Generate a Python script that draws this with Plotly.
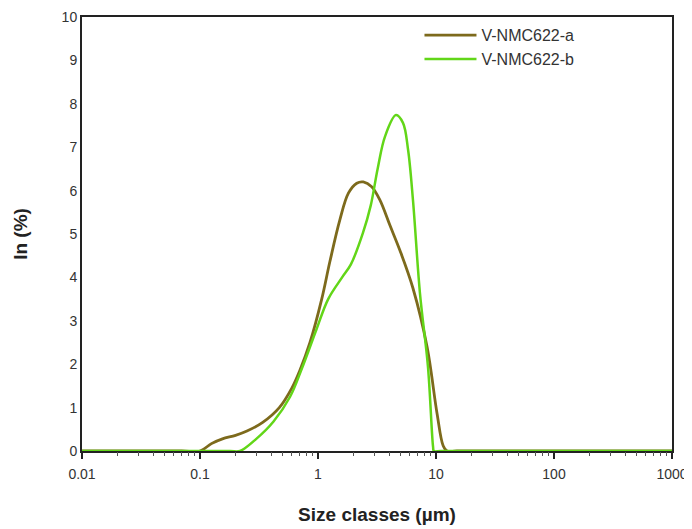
import plotly.graph_objects as go

# Size classes (µm) and volume density In (%)
size_a = [0.01, 0.03, 0.07, 0.1, 0.125, 0.155, 0.2, 0.25, 0.34, 0.47, 0.6, 0.7, 0.855, 1.075, 1.26, 1.53,
          1.81, 2.13, 2.42, 2.85, 3.35, 4.07, 4.95, 6.38, 8.4, 10.2, 11.5, 12.4, 15, 40, 200, 1000]
in_a = [0, 0, 0, 0, 0.17, 0.28, 0.36, 0.46, 0.66, 1.0, 1.45, 1.85, 2.5, 3.5, 4.36, 5.32,
        5.94, 6.17, 6.2, 6.09, 5.78, 5.2, 4.62, 3.75, 2.4, 0.87, 0.12, 0, 0, 0, 0, 0]

size_b = [0.01, 0.03, 0.1, 0.18, 0.218, 0.3, 0.42, 0.58, 0.73, 0.97, 1.22, 1.6, 1.9, 2.4, 2.8, 3.2, 3.7,
          4.58, 5.25, 5.8, 6.38, 7.31, 8.55, 9.44, 9.6, 11, 30, 200, 1000]
in_b = [0, 0, 0, 0, 0, 0.28, 0.68, 1.25, 1.9, 2.8, 3.5, 4.0, 4.3, 5.02, 5.66, 6.5, 7.25,
        7.74, 7.56, 6.94, 5.78, 3.64, 1.94, 0.1, 0, 0, 0, 0, 0]

x_tickvals = [0.01, 0.1, 1, 10, 100, 1000]
x_ticktext = ["0.01", "0.1", "1", "10", "100", "1000"]
x_minor = [m * 10.0 ** d for d in range(-2, 3) for m in range(2, 10)]
y_tickvals = list(range(0, 11))

fig = go.Figure()
fig.add_trace(go.Scatter(x=size_a, y=in_a, mode="lines", name="V-NMC622-a",
                         line=dict(color="#7d6a1c", width=2.8, shape="spline", smoothing=1.0)))
fig.add_trace(go.Scatter(x=size_b, y=in_b, mode="lines", name="V-NMC622-b",
                         line=dict(color="#62d618", width=2.5, shape="spline", smoothing=1.0)))
# carrier trace for the minor-tick axis
fig.add_trace(go.Scatter(x=[x_tickvals[0], x_tickvals[-1]], y=[0, 0], xaxis="x2", mode="lines",
                         line=dict(width=0), opacity=0, showlegend=False, hoverinfo="skip"))

# the page body adds an 8 px offset, so the figure is sized to the remaining viewport
fig.update_layout(
    width=684, height=521,
    margin=dict(l=74, r=20, t=9, b=78),
    paper_bgcolor="white", plot_bgcolor="white",
    font=dict(family="Liberation Sans, Arial, sans-serif", color="#333333", size=14),
    showlegend=True,
    legend=dict(x=0.572, y=0.997, xanchor="left", yanchor="top",
                bgcolor="rgba(0,0,0,0)", font=dict(size=16, color="#333333"),
                itemwidth=52, tracegroupgap=0),
    xaxis2=dict(type="log", range=[-2, 3], overlaying="x", anchor="y", side="bottom",
                tickvals=x_minor, ticktext=[""] * len(x_minor), showticklabels=False,
                ticks="outside", ticklen=4, tickwidth=1, tickcolor="#555555",
                showline=False, showgrid=False, zeroline=False, automargin=False),
    xaxis=dict(
        type="log", range=[-2, 3],
        tickvals=x_tickvals, ticktext=x_ticktext,
        showline=True, linecolor="#222222", linewidth=2, mirror=True,
        ticks="outside", ticklen=6, tickwidth=1.5, tickcolor="#222222",
        ticklabelstandoff=3,
        showgrid=False, zeroline=False, automargin=False,
        tickfont=dict(size=14, color="#333333"),
        title=dict(text="<b>Size classes (µm)</b>", font=dict(size=19, color="#222222"), standoff=27),
    ),
    yaxis=dict(
        range=[0, 10], tickvals=y_tickvals,
        showline=True, linecolor="#222222", linewidth=2, mirror=True,
        ticks="", showgrid=False, zeroline=False, automargin=False,
        tickfont=dict(size=14, color="#333333"),
        title=dict(text="<b>In (%)</b>", font=dict(size=19, color="#222222"), standoff=29),
    ),
)

fig.write_html("out.html")
